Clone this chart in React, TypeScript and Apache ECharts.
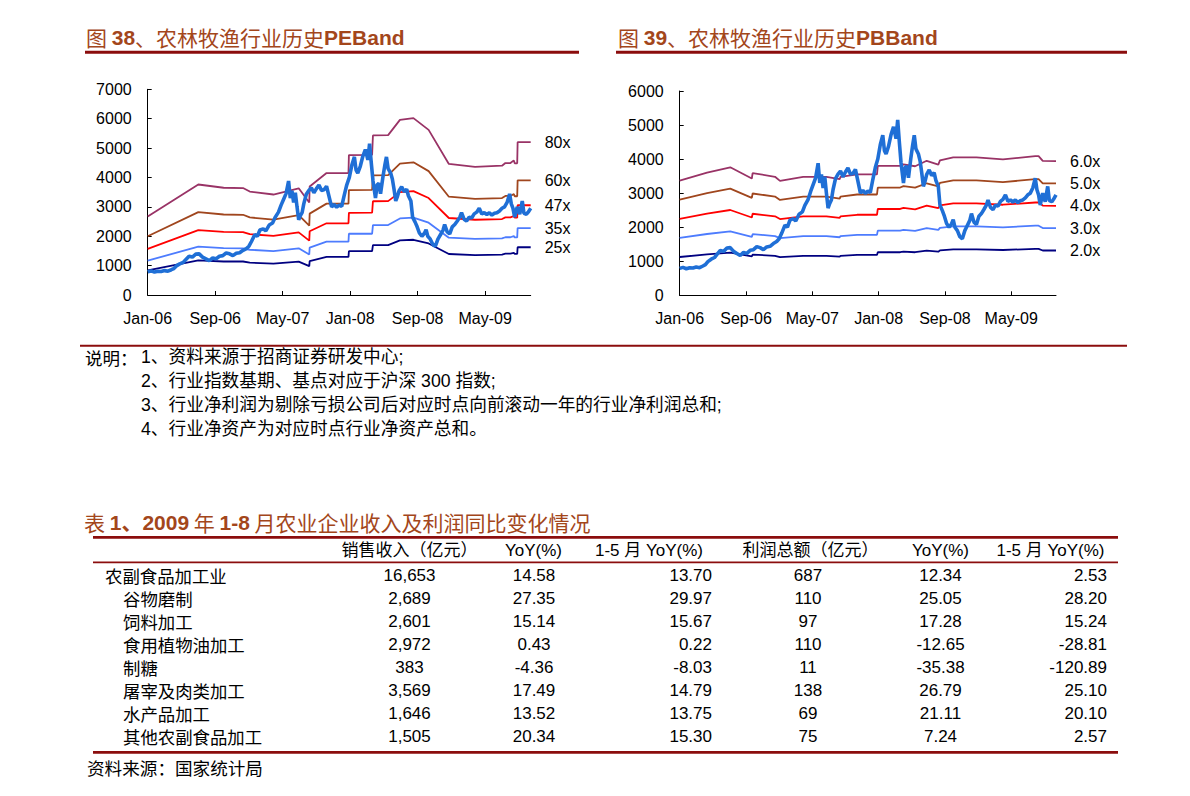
import React, { useEffect, useRef } from "react";
import * as echarts from "echarts";

// ---------- axis ticks ----------
const tickMonths = [0, 8, 16, 24, 32, 40];
const monthLabels = ["Jan-06", "Sep-06", "May-07", "Jan-08", "Sep-08", "May-09"];

// ---------- industry index (month offset from Jan-06, index value) ----------
const indexMonths = [
  0.0, 0.4, 0.8, 1.2, 1.6, 2.0, 2.4, 2.8, 3.1, 3.4, 3.8, 4.2, 4.5, 4.9, 5.3, 5.7, 6.1, 6.5, 6.9, 7.3,
  7.7, 8.1, 8.5, 8.9, 9.3, 9.7, 10.1, 10.5, 10.9, 11.3, 11.7, 12.0, 12.3, 12.7, 13.0, 13.3, 13.7, 14.0,
  14.4, 14.8, 15.1, 15.5, 15.8, 16.1, 16.4, 16.7, 16.9, 17.1, 17.3, 17.5, 17.7, 17.9, 18.1, 18.3, 18.5,
  18.8, 19.1, 19.4, 19.7, 20.0, 20.3, 20.6, 20.9, 21.2, 21.5, 21.8, 22.1, 22.4, 22.7, 23.0, 23.3, 23.6,
  23.9, 24.2, 24.5, 24.7, 24.9, 25.2, 25.5, 25.8, 26.1, 26.3, 26.5, 26.7, 27.0, 27.2, 27.4, 27.6, 27.9,
  28.1, 28.3, 28.5, 28.8, 29.0, 29.2, 29.4, 29.6, 29.8, 30.1, 30.4, 30.7, 30.9, 31.2, 31.4, 31.7, 31.9,
  32.2, 32.5, 32.8, 33.0, 33.2, 33.5, 33.8, 34.1, 34.4, 34.7, 35.0, 35.2, 35.5, 35.8, 36.1, 36.4, 36.7,
  37.0, 37.2, 37.5, 37.8, 38.1, 38.4, 38.7, 39.0, 39.3, 39.6, 39.9, 40.2, 40.5, 40.8, 41.1, 41.4, 41.7,
  42.0, 42.3, 42.6, 42.9, 43.1, 43.3, 43.5, 43.8, 44.1, 44.4, 44.6, 44.9, 45.1, 45.4,
];
const indexValues = [
  790, 820, 780, 810, 800, 830, 810, 860, 900, 990, 1060, 1110, 1200, 1320, 1290, 1390, 1400, 1290, 1230, 1170,
  1260, 1230, 1320, 1340, 1430, 1400, 1340, 1420, 1440, 1520, 1580, 1660, 1820, 2060, 2000, 2210, 2250, 2180,
  2380, 2450, 2640, 2820, 3050, 3250, 3450, 3880, 3300, 3550, 3150, 3480, 3000, 2560, 2700, 2800, 3100,
  3430, 3560, 3650, 3480, 3620, 3740, 3560, 3580, 3700, 3350, 3000, 3080, 2990, 3060, 3020, 3400, 3750,
  4000, 4420, 4700, 4250, 4150, 4380, 4720, 4950, 4600, 5150, 4500, 3900, 3300, 3750, 3800, 3450, 4050,
  4400, 4700, 4300, 4150, 3950, 3600, 3200, 3350, 3550, 3680, 3520, 3600, 3380, 3200, 2650, 2480, 2350,
  2110, 2000, 2100, 2220, 2000, 1900, 1720, 1660, 1900, 2050, 2200, 2400, 2150, 2080, 2320, 2400, 2520,
  2650, 2800, 2580, 2520, 2650, 2620, 2760, 2820, 2950, 2760, 2800, 2740, 2800, 2720, 2780, 2800, 2860,
  2950, 3000, 3150, 3440, 3100, 2950, 2650, 3000, 2750, 3200, 2780, 2750, 2820, 2950,
];

// ---------- PE band (figure 38) ----------
const peMonths = [0, 6.0, 9.0, 11.3, 12.1, 14.9, 17.9, 19.15, 19.2, 21.2, 23.8, 23.85, 26.6, 26.7, 28.5, 29.9, 31.5, 33.3, 35.7, 38.8, 42.0, 42.4, 43.0, 43.4, 43.5, 43.8, 43.85, 45.4];
const pe80 = [2670, 3760, 3650, 3640, 3520, 3420, 3630, 3150, 3690, 4150, 4150, 4760, 4770, 5430, 5440, 5960, 6020, 5620, 4460, 4360, 4400, 4490, 4490, 4580, 4480, 4480, 5200, 5200];
const pe60 = [2000, 2820, 2740, 2730, 2640, 2565, 2720, 2360, 2770, 3110, 3110, 3570, 3580, 4070, 4080, 4470, 4515, 4215, 3345, 3270, 3300, 3370, 3370, 3435, 3360, 3360, 3900, 3900];
const pe47 = [1570, 2210, 2145, 2140, 2070, 2010, 2130, 1850, 2170, 2440, 2440, 2795, 2800, 3190, 3195, 3500, 3535, 3300, 2620, 2560, 2585, 2640, 2640, 2690, 2630, 2630, 3055, 3055];
const pe35 = [1170, 1645, 1595, 1590, 1540, 1495, 1590, 1380, 1615, 1815, 1815, 2085, 2085, 2375, 2380, 2605, 2635, 2460, 1950, 1910, 1925, 1965, 1965, 2005, 1960, 1960, 2275, 2275];
const pe25 = [835, 1175, 1140, 1140, 1100, 1070, 1135, 985, 1155, 1295, 1295, 1490, 1490, 1695, 1700, 1860, 1880, 1755, 1395, 1360, 1375, 1405, 1405, 1430, 1400, 1400, 1625, 1625];

// ---------- PB band (figure 39) ----------
const pbMonths = [0, 3.3, 6.1, 8.7, 8.8, 11.5, 12.1, 14.9, 17.7, 19.3, 19.4, 21.4, 23.8, 23.9, 26.6, 27.0, 28.4, 29.8, 31.2, 31.4, 33.0, 35.8, 39.0, 42.9, 43.3, 43.8, 45.4];
const pb60 = [3370, 3600, 3760, 3430, 3590, 3480, 3360, 3480, 3480, 3410, 3480, 3550, 3550, 3800, 3800, 3845, 3790, 3950, 3840, 3960, 4050, 4050, 3990, 4090, 4090, 3950, 3940];
const pb50 = [2810, 3000, 3135, 2860, 2990, 2900, 2800, 2900, 2900, 2840, 2900, 2960, 2960, 3165, 3165, 3205, 3160, 3290, 3200, 3300, 3375, 3375, 3325, 3410, 3410, 3290, 3285];
const pb40 = [2245, 2400, 2505, 2285, 2395, 2320, 2240, 2320, 2320, 2275, 2320, 2365, 2365, 2535, 2535, 2565, 2525, 2635, 2560, 2640, 2700, 2700, 2660, 2725, 2725, 2635, 2625];
const pb30 = [1685, 1800, 1880, 1715, 1795, 1740, 1680, 1740, 1740, 1705, 1740, 1775, 1775, 1900, 1900, 1920, 1895, 1975, 1920, 1980, 2025, 2025, 1995, 2045, 2045, 1975, 1970];
const pb20 = [1125, 1200, 1255, 1145, 1195, 1160, 1120, 1160, 1160, 1135, 1160, 1185, 1185, 1265, 1265, 1280, 1265, 1315, 1280, 1320, 1350, 1350, 1330, 1365, 1365, 1315, 1315];

// ---------- table ----------
const tableHeaders = ["销售收入（亿元）", "YoY(%)", "1-5 月 YoY(%)", "利润总额（亿元）", "YoY(%)", "1-5 月 YoY(%)"];
const rowNames = ["农副食品加工业", "谷物磨制", "饲料加工", "食用植物油加工", "制糖", "屠宰及肉类加工", "水产品加工", "其他农副食品加工"];
const salesRevenue = [16653, 2689, 2601, 2972, 383, 3569, 1646, 1505];
const salesYoY = [14.58, 27.35, 15.14, 0.43, -4.36, 17.49, 13.52, 20.34];
const salesYoY15 = [13.7, 29.97, 15.67, 0.22, -8.03, 14.79, 13.75, 15.3];
const totalProfit = [687, 110, 97, 110, 11, 138, 69, 75];
const profitYoY = [12.34, 25.05, 17.28, -12.65, -35.38, 26.79, 21.11, 7.24];
const profitYoY15 = [2.53, 28.2, 15.24, -28.81, -120.89, 25.1, 20.1, 2.57];

const notes = [
  "1、资料来源于招商证券研发中心;",
  "2、行业指数基期、基点对应于沪深 300 指数;",
  "3、行业净利润为剔除亏损公司后对应时点向前滚动一年的行业净利润总和;",
  "4、行业净资产为对应时点行业净资产总和。",
];

const LATIN = "'Liberation Sans', Arial, 'Noto Sans CJK SC', sans-serif";
const CJK = "'Noto Sans CJK SC', 'Liberation Sans', sans-serif";
const TITLE_COLOR = "#A3461B";
const RULE_COLOR = "#8B0D0D";

function buildOption() {
  const pair = (ms: number[], vs: number[]) => ms.map((m, i) => [m, vs[i]]);
  const band = (g: number, ms: number[], vs: number[], color: string, label: string) => ({
    type: "line",
    xAxisIndex: g,
    yAxisIndex: g,
    data: pair(ms, vs),
    symbol: "none",
    silent: true,
    z: 2,
    lineStyle: { color, width: 1.8 },
    endLabel: { show: true, formatter: label, distance: 14, color: "#000", fontSize: 16, fontFamily: LATIN },
  });
  const idx = (g: number) => ({
    type: "line",
    xAxisIndex: g,
    yAxisIndex: g,
    data: pair(indexMonths, indexValues),
    symbol: "none",
    silent: true,
    z: 3,
    lineStyle: { color: "#1F6FD6", width: 3.6 },
  });
  const xAxis = (g: number) => ({
    gridIndex: g,
    type: "value",
    min: 0,
    max: 45.4,
    axisLine: { show: true, onZero: false, lineStyle: { color: "#000", width: 1 } },
    axisTick: { show: true, inside: true, length: 4, customValues: tickMonths, lineStyle: { color: "#000" } },
    axisLabel: {
      customValues: tickMonths,
      formatter: (v: number) => {
        const k = tickMonths.indexOf(Math.round(v));
        return k >= 0 ? monthLabels[k] : "";
      },
      margin: 15,
      fontSize: 16,
      color: "#000",
      fontFamily: LATIN,
    },
    splitLine: { show: false },
  });
  const yAxis = (g: number, max: number) => ({
    gridIndex: g,
    type: "value",
    min: 0,
    max,
    interval: 1000,
    axisLine: { show: true, onZero: false, lineStyle: { color: "#000", width: 1 } },
    axisTick: { show: true, inside: true, length: 4, lineStyle: { color: "#000" } },
    axisLabel: { margin: 16, fontSize: 16, color: "#000", fontFamily: LATIN, formatter: (v: number) => String(v) },
    splitLine: { show: false },
  });

  const graphics: any[] = [];
  const text = (x: number, y: number, t: string, opts: any = {}) =>
    graphics.push({
      type: "text",
      x,
      y,
      silent: true,
      style: {
        text: t,
        fill: opts.fill || "#000",
        fontSize: opts.fontSize || 17,
        fontFamily: opts.fontFamily || CJK,
        fontWeight: opts.fontWeight || "normal",
        align: opts.align || "left",
        textAlign: opts.align || "left",
        verticalAlign: "middle",
        textVerticalAlign: "middle",
        rich: opts.rich,
      },
    });
  const rule = (x1: number, x2: number, y: number, w: number) =>
    graphics.push({
      type: "line",
      silent: true,
      shape: { x1, y1: y, x2, y2: y },
      style: { stroke: RULE_COLOR, lineWidth: w },
    });

  const titleRich = {
    a: { fontFamily: CJK, fontSize: 21, fill: TITLE_COLOR, color: TITLE_COLOR },
    b: { fontFamily: LATIN, fontSize: 21, fontWeight: "bold", fill: TITLE_COLOR, color: TITLE_COLOR },
  };
  text(86, 37, "{a|图 }{b|38}{a|、农林牧渔行业历史}{b|PEBand}", { rich: titleRich });
  text(618, 37, "{a|图 }{b|39}{a|、农林牧渔行业历史}{b|PBBand}", { rich: titleRich });
  rule(85, 579, 52.3, 3);
  rule(616, 1127, 52.3, 3);

  // notes
  rule(80, 1127, 345.8, 2);
  const noteYs = [357, 381, 404.5, 429];
  text(85, noteYs[0], "说明：", { fontFamily: CJK, fontSize: 17.5 });
  notes.forEach((n, i) => text(141, noteYs[i], n, { fontFamily: LATIN, fontSize: 17.7 }));

  // table
  text(84, 522, "{a|表 }{b|1、2009}{a| 年 }{b|1-8}{a| 月农业企业收入及利润同比变化情况}", { rich: titleRich });
  rule(93, 1118, 537.3, 2.7);
  rule(93, 1118, 562.3, 1.8);
  rule(93, 1118, 752.3, 2.7);
  const headerX = [409.5, 533.5, 649, 810.5, 940.5, 1050.5];
  tableHeaders.forEach((h, i) => text(headerX[i], 550, h, { align: "center", fontFamily: LATIN, fontSize: 17 }));
  const rowY0 = 575.7;
  const rowStep = 22.9;
  const fmt2 = (v: number) => v.toFixed(2);
  const fmtInt = (v: number) => v.toLocaleString("en-US");
  rowNames.forEach((name, r) => {
    const y = rowY0 + r * rowStep;
    text(r === 0 ? 105 : 123, y, name, { fontFamily: CJK, fontSize: 17.4 });
    text(409.5, y, fmtInt(salesRevenue[r]), { align: "center", fontFamily: LATIN, fontSize: 17 });
    text(534, y, fmt2(salesYoY[r]), { align: "center", fontFamily: LATIN, fontSize: 17 });
    text(712, y, fmt2(salesYoY15[r]), { align: "right", fontFamily: LATIN, fontSize: 17 });
    text(808, y, fmtInt(totalProfit[r]), { align: "center", fontFamily: LATIN, fontSize: 17 });
    text(940.5, y, fmt2(profitYoY[r]), { align: "center", fontFamily: LATIN, fontSize: 17 });
    text(1107, y, fmt2(profitYoY15[r]), { align: "right", fontFamily: LATIN, fontSize: 17 });
  });
  text(87, 767, "资料来源：国家统计局", { fontFamily: CJK, fontSize: 17.6 });

  return {
    animation: false,
    backgroundColor: "#fff",
    grid: [
      { left: 147.7, top: 89.3, width: 383, height: 205.7, outerBoundsMode: "none", containLabel: false },
      { left: 679.7, top: 91, width: 376.3, height: 204.3, outerBoundsMode: "none", containLabel: false },
    ],
    xAxis: [xAxis(0), xAxis(1)],
    yAxis: [yAxis(0, 7000), yAxis(1, 6000)],
    series: [
      band(0, peMonths, pe80, "#993366", "80x"),
      band(0, peMonths, pe60, "#A0461E", "60x"),
      band(0, peMonths, pe47, "#FF0000", "47x"),
      band(0, peMonths, pe35, "#4D7CFE", "35x"),
      band(0, peMonths, pe25, "#000080", "25x"),
      idx(0),
      band(1, pbMonths, pb60, "#993366", "6.0x"),
      band(1, pbMonths, pb50, "#A0461E", "5.0x"),
      band(1, pbMonths, pb40, "#FF0000", "4.0x"),
      band(1, pbMonths, pb30, "#4D7CFE", "3.0x"),
      band(1, pbMonths, pb20, "#000080", "2.0x"),
      idx(1),
    ],
    graphic: graphics,
  };
}

export default function App() {
  const ref = useRef<HTMLDivElement>(null);
  useEffect(() => {
    if (!ref.current) return;
    const chart = echarts.init(ref.current, undefined, { renderer: "svg" });
    chart.setOption(buildOption() as any);
    return () => chart.dispose();
  }, []);
  return (
    <div
      ref={ref}
      style={{ position: "absolute", left: 0, top: 0, width: 1190, height: 796, background: "#fff" }}
    />
  );
}
